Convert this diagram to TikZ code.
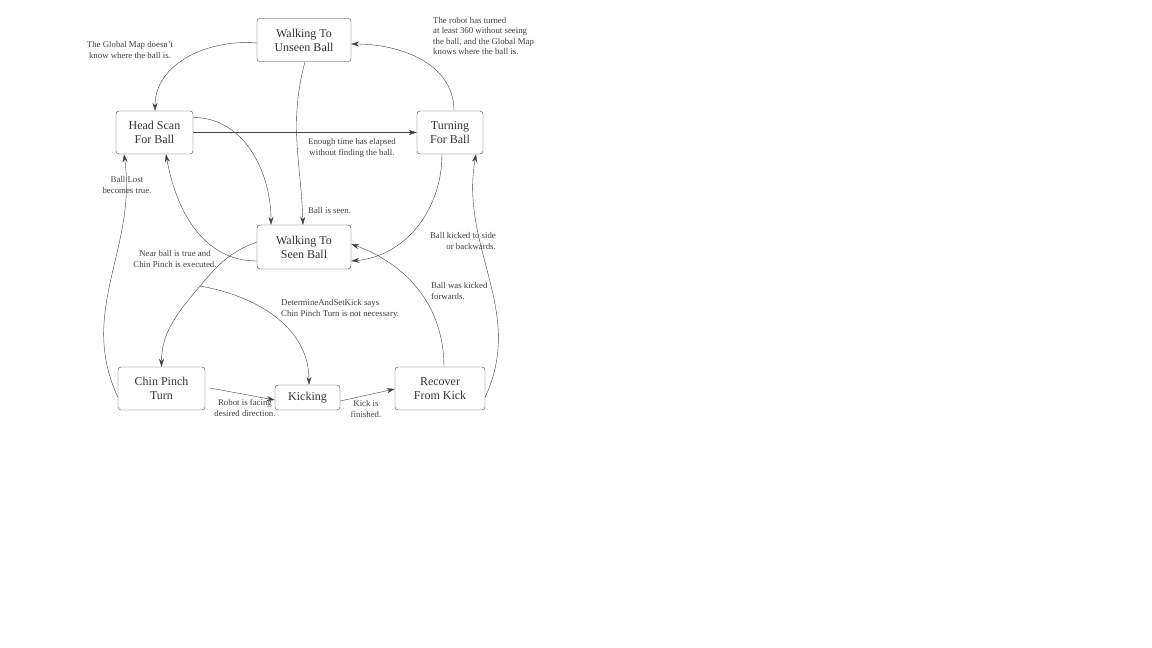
\documentclass[tikz,border=0pt]{standalone}
\usepackage{fontspec}
\setmainfont{Liberation Serif}
\usetikzlibrary{arrows.meta}
\begin{document}
\begin{tikzpicture}[x=1pt,y=-1pt,
  state/.style={draw=black!75,rounded corners=3pt,align=center,font=\fontsize{12}{14}\selectfont,text=black!80,inner sep=0pt},
  lab/.style={font=\fontsize{8.8}{10.5}\selectfont,text=black!75,inner sep=0pt},
  arr/.style={draw=black!75,-{Stealth[length=8pt,width=5pt]}},
  line/.style={draw=black!75}]
\useasboundingbox (0,0) rectangle (1152,648);
\node[state,minimum width=94pt,minimum height=43pt] (WU) at (304,40) {Walking To\\Unseen Ball};
\node[state,minimum width=77pt,minimum height=43pt] (HS) at (154.5,132.5) {Head Scan\\For Ball};
\node[state,minimum width=66pt,minimum height=43pt] (TB) at (450,132.5) {Turning\\For Ball};
\node[state,minimum width=94pt,minimum height=44pt] (WS) at (304,247) {Walking To\\Seen Ball};
\node[state,minimum width=87pt,minimum height=43pt] (CP) at (161.5,388.5) {Chin Pinch\\Turn};
\node[state,minimum width=65pt,minimum height=25pt] (K) at (307.5,397.5) {Kicking};
\node[state,minimum width=90pt,minimum height=43pt] (R) at (440,388.5) {Recover\\From Kick};
\coordinate (b) at (200,286);
% edges
\draw[arr] ([yshift=-3pt]WU.west) to[out=175,in=90] ([xshift=0.5pt]HS.north);
\draw[arr] ([xshift=4pt]TB.north) to[out=90,in=0] ([yshift=-4pt]WU.east);
\draw[arr] (HS.east) -- (TB.west);
\draw[arr] ([xshift=1pt]WU.south) to[out=-105,in=92] ([xshift=-1pt]WS.north);
\draw[arr] ([yshift=15pt]HS.east) to[out=0,in=90] ([xshift=-33pt]WS.north);
\draw[arr] ([yshift=-14pt]WS.west) to[out=180,in=-80] ([xshift=11.5pt]HS.south);
\draw[arr] ([xshift=-8pt]TB.south) to[out=-90,in=5] ([yshift=-14pt]WS.east);
\draw[arr] ([yshift=-8.5pt]CP.west) to[out=115,in=-82] ([xshift=-30.5pt]HS.south);
\draw[arr] ([yshift=-8.5pt]R.east) to[out=65,in=-100] ([xshift=26pt]TB.south);
\draw[arr] ([xshift=4pt]R.north) to[out=90,in=-20] ([yshift=3pt]WS.east);
\draw[arr] ([yshift=5pt]WS.west) to[out=200,in=50] (b) to[out=230,in=90] (CP.north);
\draw[arr] (b) to[out=-10,in=90] ([xshift=1.5pt]K.north);
\draw[arr] (210,388) -- ([yshift=-2.5pt]K.west);
\draw[arr] ([yshift=-3.5pt]K.east) -- ([yshift=-0.5pt]R.west);
% labels
\node[lab,align=center] (l1) at (130,50) {The Global Map doesn't\\know where the ball is.};
\node[lab,align=left,anchor=north west] (l2) at (433,17) {The robot has turned\\at least 360 without seeing\\the ball, and the Global Map\\knows where the ball is.};
\node[lab,align=center] (l3) at (352,148) {Enough time has elapsed\\without finding the ball.};
\node[lab,anchor=west] (l4) at (308,211) {Ball is seen.};
\node[lab,align=center] (l5) at (127,185) {Ball Lost\\becomes true.};
\node[lab,align=right,anchor=east] (l6) at (496,241) {Ball kicked to side\\or backwards.};
\node[lab,align=left,anchor=west] (l7) at (431,291) {Ball was kicked\\forwards.};
\node[lab,align=center] (l8) at (175,259) {Near ball is true and\\Chin Pinch is executed.};
\node[lab,align=left,anchor=west] (l9) at (281,309) {DetermineAndSetKick says\\Chin Pinch Turn is not necessary.};
\node[lab,align=center] (l10) at (245,408) {Robot is facing\\desired direction.};
\node[lab,align=center] (l11) at (366,409) {Kick is\\finished.};
\end{tikzpicture}
\end{document}
